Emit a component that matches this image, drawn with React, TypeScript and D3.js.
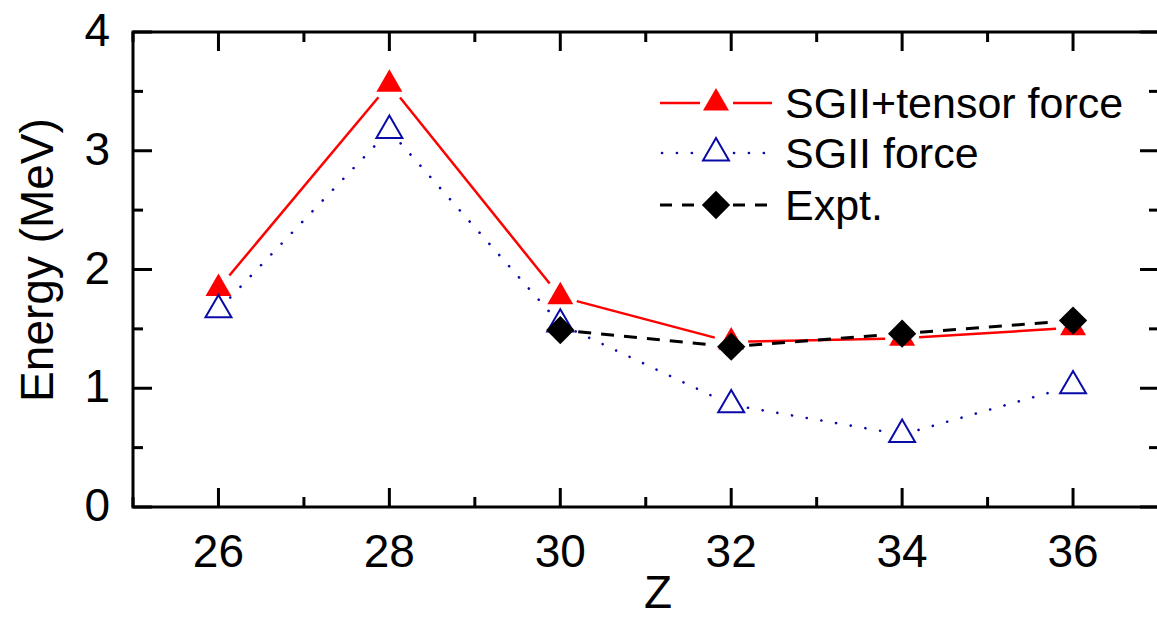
import React from 'react';
import * as d3 from 'd3';

const zValues = [26, 28, 30, 32, 34, 36];
const tensorValues = [1.84, 3.56, 1.77, 1.39, 1.42, 1.51];
const sgiiValues = [1.66, 3.17, 1.54, 0.86, 0.61, 1.02];
const exptZ = [30, 32, 34, 36];
const exptValues = [1.49, 1.35, 1.46, 1.57];
const xTicks = [26, 28, 30, 32, 34, 36];
const yTicks = [0, 1, 2, 3, 4];
const legendLabels = ['SGII+tensor force', 'SGII force', 'Expt.'];

const width = 1157;
const height = 619;
const font = '"Liberation Sans", Arial, sans-serif';

const x = d3.scaleLinear().domain([25, 37]).range([133, 1158.5]);
const y = d3.scaleLinear().domain([0, 4]).range([507, 32]);

const triangle = d3.symbol().type(d3.symbolTriangle).size(292)();
const square = d3.symbol().type(d3.symbolSquare).size(400)();

// line pieces between markers, with a gap at each marker
const segments = (pts: [number, number][], gap: number) => {
  const out: string[] = [];
  const line = d3.line();
  for (let i = 0; i < pts.length - 1; i++) {
    const [x0, y0] = pts[i];
    const [x1, y1] = pts[i + 1];
    const len = Math.hypot(x1 - x0, y1 - y0);
    const ux = (x1 - x0) / len;
    const uy = (y1 - y0) / len;
    out.push(
      line([
        [x0 + ux * gap, y0 + uy * gap],
        [x1 - ux * gap, y1 - uy * gap],
      ]) as string
    );
  }
  return out;
};

const red = '#ff0000';
const blue = '#0a0aa8';

export default function App() {
  const tensorPts = zValues.map((z, i) => [x(z), y(tensorValues[i])] as [number, number]);
  const sgiiPts = zValues.map((z, i) => [x(z), y(sgiiValues[i])] as [number, number]);
  const exptPts = exptZ.map((z, i) => [x(z), y(exptValues[i])] as [number, number]);

  const xMinor = d3.range(25, 38, 1).filter((v) => !xTicks.includes(v));
  const yMinor = d3.range(0.5, 4, 1);

  const legendY = [103, 153, 205];

  return (
    <svg
      width={width}
      height={height}
      style={{ position: 'absolute', left: 0, top: 0, background: '#fff' }}
      fontFamily={font}
    >
      {/* frame */}
      <rect x={133} y={32} width={1158.5 - 133} height={475} fill="none" stroke="#000" strokeWidth={3} />

      {/* ticks */}
      <g stroke="#000" strokeWidth={3}>
        {xTicks.map((t) => (
          <g key={'xt' + t}>
            <line x1={x(t)} x2={x(t)} y1={507} y2={488} />
            <line x1={x(t)} x2={x(t)} y1={32} y2={51} />
          </g>
        ))}
        {xMinor.map((t) => (
          <g key={'xm' + t}>
            <line x1={x(t)} x2={x(t)} y1={507} y2={497} />
            <line x1={x(t)} x2={x(t)} y1={32} y2={42} />
          </g>
        ))}
        {yTicks.map((t) => (
          <g key={'yt' + t}>
            <line x1={133} x2={152} y1={y(t)} y2={y(t)} />
            <line x1={1158.5} x2={1140} y1={y(t)} y2={y(t)} />
          </g>
        ))}
        {yMinor.map((t) => (
          <g key={'ym' + t}>
            <line x1={133} x2={143} y1={y(t)} y2={y(t)} />
            <line x1={1158.5} x2={1149} y1={y(t)} y2={y(t)} />
          </g>
        ))}
      </g>

      {/* tick labels */}
      <g fontSize={46} fill="#000">
        {xTicks.map((t) => (
          <text key={'xl' + t} x={x(t)} y={567} textAnchor="middle">
            {t}
          </text>
        ))}
        {yTicks.map((t) => (
          <text key={'yl' + t} x={110} y={y(t) + 14} textAnchor="end">
            {t}
          </text>
        ))}
      </g>

      {/* axis titles */}
      <text x={658} y={608} fontSize={46} textAnchor="middle">
        Z
      </text>
      <text transform="translate(53,260) rotate(-90)" fontSize={46} textAnchor="middle">
        Energy (MeV)
      </text>

      {/* SGII+tensor */}
      <g stroke={red} strokeWidth={2.5} fill="none">
        {segments(tensorPts, 17).map((d, i) => (
          <path key={'r' + i} d={d} />
        ))}
      </g>
      {tensorPts.map(([px, py], i) => (
        <path key={'rm' + i} d={triangle} transform={`translate(${px},${py})`} fill={red} />
      ))}

      {/* SGII */}
      <g stroke={blue} strokeWidth={2.6} fill="none" strokeDasharray="0.1 14.8" strokeLinecap="round">
        {segments(sgiiPts, 17).map((d, i) => (
          <path key={'b' + i} d={d} />
        ))}
      </g>
      {sgiiPts.map(([px, py], i) => (
        <path
          key={'bm' + i}
          d={triangle}
          transform={`translate(${px},${py})`}
          fill="#fff"
          stroke={blue}
          strokeWidth={2}
        />
      ))}

      {/* Expt */}
      <g stroke="#000" strokeWidth={3} fill="none" strokeDasharray="13 10">
        {segments(exptPts, 18).map((d, i) => (
          <path key={'k' + i} d={d} />
        ))}
      </g>
      {exptPts.map(([px, py], i) => (
        <path key={'km' + i} d={square} transform={`translate(${px},${py}) rotate(45)`} fill="#000" />
      ))}

      {/* legend */}
      <g>
        <line x1={660} x2={700} y1={legendY[0]} y2={legendY[0]} stroke={red} strokeWidth={2.5} />
        <line x1={733} x2={772} y1={legendY[0]} y2={legendY[0]} stroke={red} strokeWidth={2.5} />
        <path d={triangle} transform={`translate(716,${legendY[0]})`} fill={red} />

        <line
          x1={662}
          x2={700}
          y1={legendY[1]}
          y2={legendY[1]}
          stroke={blue}
          strokeWidth={2.6}
          strokeDasharray="0.1 14.8"
          strokeLinecap="round"
        />
        <line
          x1={734}
          x2={772}
          y1={legendY[1]}
          y2={legendY[1]}
          stroke={blue}
          strokeWidth={2.6}
          strokeDasharray="0.1 14.8"
          strokeLinecap="round"
        />
        <path
          d={triangle}
          transform={`translate(716,${legendY[1]})`}
          fill="#fff"
          stroke={blue}
          strokeWidth={2}
        />

        <line x1={660} x2={700} y1={legendY[2]} y2={legendY[2]} stroke="#000" strokeWidth={3} strokeDasharray="12 10" />
        <line x1={733} x2={772} y1={legendY[2]} y2={legendY[2]} stroke="#000" strokeWidth={3} strokeDasharray="12 10" />
        <path d={square} transform={`translate(716,${legendY[2]}) rotate(45)`} fill="#000" />

        {legendLabels.map((l, i) => (
          <text key={l} x={785} y={legendY[i] + 15} fontSize={43}>
            {l}
          </text>
        ))}
      </g>
    </svg>
  );
}
